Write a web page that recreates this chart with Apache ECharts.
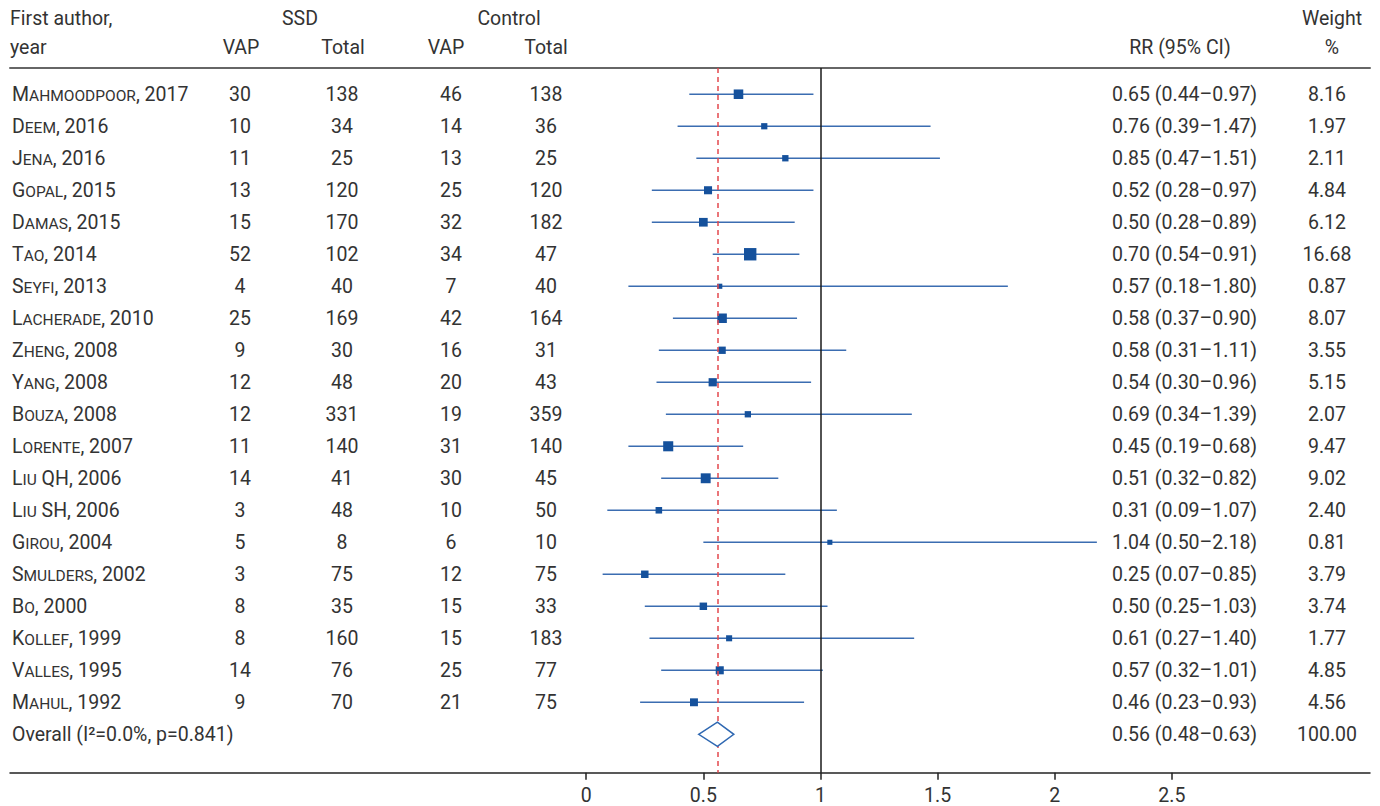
<!DOCTYPE html>
<html><head><meta charset="utf-8">
<script src="https://cdn.jsdelivr.net/npm/echarts@6/dist/echarts.min.js"></script>
<style>html,body{margin:0;padding:0;background:#fff}#c{width:1380px;height:806px}</style>
</head><body><div id="c"></div>
<script>
// ---- data ----
const studies = ['Mahmoodpoor, 2017','Deem, 2016','Jena, 2016','Gopal, 2015','Damas, 2015','Tao, 2014','Seyfi, 2013','Lacherade, 2010','Zheng, 2008','Yang, 2008','Bouza, 2008','Lorente, 2007','Liu QH, 2006','Liu SH, 2006','Girou, 2004','Smulders, 2002','Bo, 2000','Kollef, 1999','Valles, 1995','Mahul, 1992'];
const ssdVap   = [30,10,11,13,15,52,4,25,9,12,12,11,14,3,5,3,8,8,14,9];
const ssdTotal = [138,34,25,120,170,102,40,169,30,48,331,140,41,48,8,75,35,160,76,70];
const ctlVap   = [46,14,13,25,32,34,7,42,16,20,19,31,30,10,6,12,15,15,25,21];
const ctlTotal = [138,36,25,120,182,47,40,164,31,43,359,140,45,50,10,75,33,183,77,75];
const rrPoint  = [0.65,0.76,0.85,0.52,0.50,0.70,0.57,0.58,0.58,0.54,0.69,0.35,0.51,0.31,1.04,0.25,0.50,0.61,0.57,0.46];
const ciLow    = [0.44,0.39,0.47,0.28,0.28,0.54,0.18,0.37,0.31,0.30,0.34,0.18,0.32,0.09,0.50,0.07,0.25,0.27,0.32,0.23];
const ciHigh   = [0.97,1.47,1.51,0.97,0.89,0.91,1.80,0.90,1.11,0.96,1.39,0.67,0.82,1.07,2.18,0.85,1.03,1.40,1.01,0.93];
const rrLabels = ['0.65 (0.44–0.97)','0.76 (0.39–1.47)','0.85 (0.47–1.51)','0.52 (0.28–0.97)','0.50 (0.28–0.89)','0.70 (0.54–0.91)','0.57 (0.18–1.80)','0.58 (0.37–0.90)','0.58 (0.31–1.11)','0.54 (0.30–0.96)','0.69 (0.34–1.39)','0.45 (0.19–0.68)','0.51 (0.32–0.82)','0.31 (0.09–1.07)','1.04 (0.50–2.18)','0.25 (0.07–0.85)','0.50 (0.25–1.03)','0.61 (0.27–1.40)','0.57 (0.32–1.01)','0.46 (0.23–0.93)'];
const weights  = [8.16,1.97,2.11,4.84,6.12,16.68,0.87,8.07,3.55,5.15,2.07,9.47,9.02,2.40,0.81,3.79,3.74,1.77,4.85,4.56];
const weightLabels = ['8.16','1.97','2.11','4.84','6.12','16.68','0.87','8.07','3.55','5.15','2.07','9.47','9.02','2.40','0.81','3.79','3.74','1.77','4.85','4.56'];
const overallName = 'Overall (I²=0.0%, p=0.841)';
const overallRR = [0.56, 0.48, 0.63];   // estimate, low, high
const overallLabel = '0.56 (0.48–0.63)';
const overallWeight = '100.00';
const nullValue = 1;
const xTicks = [0, 0.5, 1, 1.5, 2, 2.5];
const xTickLabels = ['0', '0.5', '1', '1.5', '2', '2.5'];

// ---- style ----
const FONT = 'Roboto';
const FS = 19.5;
const FS_SC = 15.5;
const TXT = '#333333';
const LINE_BLUE = '#3b6db1';
const SQ_BLUE = '#15519c';
const COL = {name: 12, ssdVap: 240, ssdTot: 342, ctlVap: 451, ctlTot: 546, rr: 1112, w: 1327};
const overallRow = studies.length;

function nameRich(s) {
  const idx = s.lastIndexOf(', ');
  const sur = s.slice(0, idx), yr = s.slice(idx + 2);
  let out = '';
  sur.split(' ').forEach((w, k) => {
    if (k > 0) out += '{b| }';
    if (w === w.toUpperCase()) out += '{b|' + w + '}';
    else out += '{b|' + w[0] + '}{s|' + w.slice(1).toUpperCase() + '}';
  });
  return out + '{b|, ' + yr + '}';
}
const rich = {
  b: {fontSize: FS, fontFamily: FONT, fill: TXT, verticalAlign: 'bottom'},
  s: {fontSize: FS_SC, fontFamily: FONT, fill: TXT, verticalAlign: 'bottom'}
};

function txt(x, y, text, align) {
  return {type: 'text', x: x, y: y, silent: true,
    style: {text: text, fill: TXT, fontSize: FS, fontFamily: FONT, align: align, verticalAlign: 'middle'}};
}

const rows = studies.map((s, i) => [i]).concat([[overallRow]]);

const chart = echarts.init(document.getElementById('c'), null, {renderer: 'svg'});
chart.setOption({
  animation: false,
  backgroundColor: '#fff',
  grid: {left: 10, right: 10, top: 68, bottom: 33.3, containLabel: false},
  xAxis: [{
    type: 'value', min: -2.46, max: 3.346, position: 'bottom',
    splitLine: {show: false},
    axisLine: {show: true, onZero: false, lineStyle: {color: '#222', width: 1.5}},
    axisTick: {show: true, length: 7, lineStyle: {color: '#222', width: 1.5}, customValues: xTicks},
    axisLabel: {show: true, margin: 13, color: TXT, fontSize: FS, fontFamily: FONT, customValues: xTicks,
      formatter: v => { const k = xTicks.indexOf(v); return k >= 0 ? xTickLabels[k] : ''; }}
  }, {
    type: 'value', min: -2.46, max: 3.346, position: 'top',
    splitLine: {show: false},
    axisLine: {show: true, onZero: false, lineStyle: {color: '#666', width: 2}},
    axisTick: {show: false}, axisLabel: {show: false}
  }],
  yAxis: {type: 'value', inverse: true, min: -0.82, max: 21.2, show: false},
  graphic: [
    txt(10, 18, 'First author,', 'left'),
    txt(10, 47, 'year', 'left'),
    txt(300, 18, 'SSD', 'center'),
    txt(509, 18, 'Control', 'center'),
    txt(241, 47, 'VAP', 'center'),
    txt(343, 47, 'Total', 'center'),
    txt(446, 47, 'VAP', 'center'),
    txt(546, 47, 'Total', 'center'),
    txt(1180, 47, 'RR (95% CI)', 'center'),
    txt(1332, 18, 'Weight', 'center'),
    txt(1332, 47, '%', 'center')
  ],
  series: [
    { // table text
      type: 'custom', data: rows, clip: false, silent: true, z: 5,
      renderItem: function (params, api) {
        const i = api.value(0);
        const y = api.coord([0, i])[1];
        const mk = (x, t, a) => ({type: 'text', x: x, y: y, style: {text: t, fill: TXT, fontSize: FS, fontFamily: FONT, align: a, verticalAlign: 'middle'}});
        if (i === overallRow) {
          return {type: 'group', children: [
            mk(COL.name, overallName, 'left'),
            mk(COL.rr, overallLabel, 'left'),
            mk(COL.w, overallWeight, 'center')
          ]};
        }
        return {type: 'group', children: [
          {type: 'text', x: COL.name, y: y, style: {text: nameRich(studies[i]), rich: rich, fill: TXT, fontSize: FS, fontFamily: FONT, align: 'left', verticalAlign: 'middle'}},
          mk(COL.ssdVap, String(ssdVap[i]), 'center'),
          mk(COL.ssdTot, String(ssdTotal[i]), 'center'),
          mk(COL.ctlVap, String(ctlVap[i]), 'center'),
          mk(COL.ctlTot, String(ctlTotal[i]), 'center'),
          mk(COL.rr, rrLabels[i], 'left'),
          mk(COL.w, weightLabels[i], 'center')
        ]};
      }
    },
    { // CI lines
      type: 'custom', data: studies.map((s, i) => [ciLow[i], ciHigh[i], i]), clip: false, silent: true, z: 2,
      renderItem: function (params, api) {
        const a = api.coord([api.value(0), api.value(2)]);
        const b = api.coord([api.value(1), api.value(2)]);
        return {type: 'line', shape: {x1: a[0], y1: a[1], x2: b[0], y2: b[1]}, style: {stroke: LINE_BLUE, lineWidth: 1.6}};
      }
    },
    { // point estimates
      type: 'scatter', data: studies.map((s, i) => [rrPoint[i], i]), symbol: 'rect', z: 3,
      symbolSize: (v, p) => 3 + 2.3 * Math.sqrt(weights[p.dataIndex]),
      itemStyle: {color: SQ_BLUE, opacity: 1}, silent: true,
      markLine: {
        silent: true, symbol: ['none', 'none'], label: {show: false}, z: 4,
        data: [
          {xAxis: nullValue, lineStyle: {color: '#1a1a1a', width: 1.5, type: 'solid'}},
          {xAxis: overallRR[0], lineStyle: {color: '#e4484d', width: 1.5, type: [5, 4]}}
        ]
      }
    },
    { // overall diamond
      type: 'custom', data: [[overallRR[0], overallRR[1], overallRR[2], overallRow]], clip: false, silent: true, z: 6,
      renderItem: function (params, api) {
        const r = api.value(3);
        const pL = api.coord([api.value(1), r]);
        const pR = api.coord([api.value(2), r]);
        const pT = api.coord([api.value(0), r - 0.38]);
        const pB = api.coord([api.value(0), r + 0.38]);
        return {type: 'polygon', shape: {points: [pL, pT, pR, pB]}, style: {fill: '#fff', stroke: '#2f68b2', lineWidth: 1.5}};
      }
    }
  ]
});
</script>
</body></html>
